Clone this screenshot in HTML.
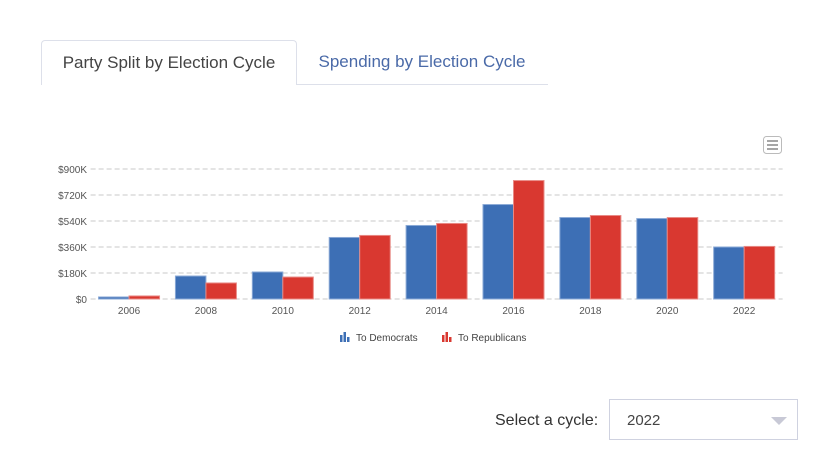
<!DOCTYPE html>
<html><head><meta charset="utf-8"><style>
body{margin:0;width:817px;height:453px;background:#fff;font-family:"Liberation Sans",sans-serif;position:relative;overflow:hidden}
.tab{position:absolute;top:40px;height:44px;font-size:17px;line-height:44px;text-align:center}
#t1{left:41px;width:254px;border:1px solid #dde0ea;border-bottom:none;border-radius:4px 4px 0 0;color:#444;background:#fff;z-index:2}
#t2{left:296px;width:252px;color:#4a6aa8;border-bottom:1px solid #dde0ea;height:44px}
#lbl{position:absolute;left:495px;top:412px;font-size:16px;color:#333}
#sel{position:absolute;left:609px;top:399px;width:189px;height:41px;border:1px solid #cfd2e0;box-sizing:border-box;font-size:15px;color:#444;line-height:42px;padding-left:17px}
#sel .arr{position:absolute;right:10px;top:17px;width:0;height:0;border-left:8px solid transparent;border-right:8px solid transparent;border-top:8px solid #c8c9d6}
</style></head><body>
<div class="tab" id="t1">Party Split by Election Cycle</div>
<div class="tab" id="t2">Spending by Election Cycle</div>
<svg id="chart" width="817" height="453" style="position:absolute;left:0;top:0">
<g><rect x="763.5" y="136.5" width="18" height="17" rx="3" fill="#fff" stroke="#bbb"/><path d="M767 141h11M767 145h11M767 149h11" stroke="#888" stroke-width="1.5"/></g>
</svg>
<div id="lbl">Select a cycle:</div>
<div id="sel">2022<span class="arr"></span></div>
<script>
const categories=["2006","2008","2010","2012","2014","2016","2018","2020","2022"];
const democrats=[14,159,187,426,509,654,564,557,360];
const republicans=[21,111,152,440,523,820,578,564,364];
const yTicks=[0,180,360,540,720,900];
const yTickLabels=["$0","$180K","$360K","$540K","$720K","$900K"];
const NS="http://www.w3.org/2000/svg";
const svg=document.getElementById('chart');
const x0=90.6,x1=782.6,y0=299,yTop=169,yMax=900;
const bw=(x1-x0)/categories.length;
const y=v=>y0-(v/yMax)*(y0-yTop);
function mk(t,a,p){const e=document.createElementNS(NS,t);for(const k in a)e.setAttribute(k,a[k]);(p||svg).appendChild(e);return e;}
yTicks.forEach((t,i)=>{
 const l=mk('line',{x1:x0,x2:x1,y1:y(t),y2:y(t),stroke:'#c8c8c8','stroke-dasharray':'5,3'});
 
 
 const tx=mk('text',{x:87,y:y(t)+4,'text-anchor':'end','font-size':10,fill:'#555'});
 tx.textContent=yTickLabels[i];
 
 
});
categories.forEach((c,i)=>{
 const cx=x0+bw*(i+0.5),w=30.5;
 const b1=mk('rect',{x:cx-w,y:y(democrats[i]),width:w,height:y0-y(democrats[i]),fill:'#3d6fb5',stroke:'#8aa9d6','stroke-width':1});
 
 
 const b2=mk('rect',{x:cx,y:y(republicans[i]),width:w,height:y0-y(republicans[i]),fill:'#d93830',stroke:'#e88a85','stroke-width':1});
 
 
 const tx=mk('text',{x:cx,y:314,'text-anchor':'middle','font-size':10,fill:'#555'});
 tx.textContent=c;
 
 
});
function legend(x,col,label,name){
 const g=mk('g',{});
 
 
 mk('rect',{x:x,y:335,width:2.5,height:7,fill:col},g);
 mk('rect',{x:x+3.5,y:332,width:2.5,height:10,fill:col},g);
 mk('rect',{x:x+7,y:337,width:2.5,height:5,fill:col},g);
 const t=mk('text',{x:x+16,y:341,'font-size':10,fill:'#444'},g);t.textContent=label;
}
legend(340,'#3d6fb5','To Democrats','legend-democrats');
legend(442,'#d93830','To Republicans','legend-republicans');
</script>
</body></html>
